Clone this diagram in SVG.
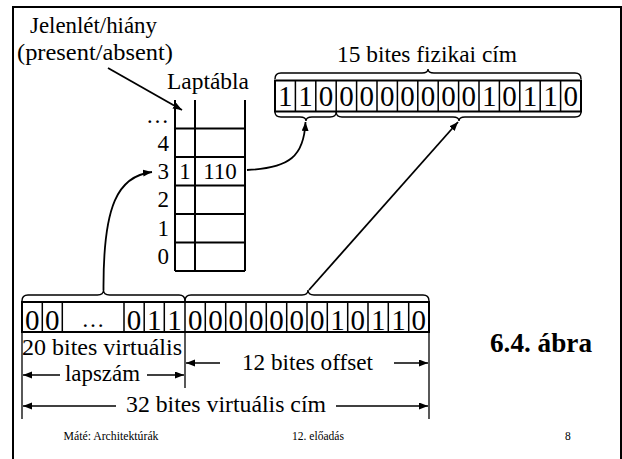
<svg xmlns="http://www.w3.org/2000/svg" width="622" height="459" viewBox="0 0 622 459" font-family="'Liberation Serif', 'Times New Roman', Tinos, serif">
<defs>
<marker id="ah" markerUnits="userSpaceOnUse" markerWidth="10" markerHeight="8" refX="9" refY="3.5" orient="auto">
<path d="M0,0 L9,3.5 L0,7 z" fill="#000"/>
</marker>
<style>
text{font-family:'Liberation Serif','Times New Roman',Tinos,serif;fill:#000}
.lbl{font-size:23px}
.bit{font-size:29px;text-anchor:middle}
.row{font-size:23px;text-anchor:end}
.cell{font-size:23px;text-anchor:middle}
.foot{font-size:11.5px}
.thick{fill:none;stroke:#000;stroke-width:2}
.thin{fill:none;stroke:#000;stroke-width:1.5}
.brace{fill:none;stroke:#000;stroke-width:1.4}
.conn{fill:none;stroke:#000;stroke-width:1.8}
.dim{fill:none;stroke:#000;stroke-width:1.3}
</style>
</defs>
<rect width="622" height="459" fill="#fff"/>
<path class="thick" d="M13,470 L13,7 L621,7 L621,470"/>

<g id="labels">
<text class="lbl" x="30" y="33" textLength="127" lengthAdjust="spacingAndGlyphs">Jelenlét/hiány</text>
<text class="lbl" x="17" y="60" textLength="156" lengthAdjust="spacingAndGlyphs">(present/absent)</text>
<text class="lbl" x="167" y="89" textLength="82" lengthAdjust="spacingAndGlyphs">Laptábla</text>
<text class="lbl" x="337" y="62" textLength="180" lengthAdjust="spacingAndGlyphs">15 bites fizikai cím</text>
<text x="490" y="352" style="font-size:28px;font-weight:bold" textLength="102" lengthAdjust="spacingAndGlyphs">6.4. ábra</text>
</g>

<g id="page-table">
<path class="thick" d="M175,100 V271 M195,100 V271 M245,100 V271 M175,128.5 H245 M175,157 H245 M175,185.5 H245 M175,214 H245 M175,242.5 H245 M175,271 H245"/>
<text class="row" x="169" y="123">…</text>
<text class="row" x="169" y="151">4</text>
<text class="row" x="169" y="179">3</text>
<text class="row" x="169" y="207">2</text>
<text class="row" x="169" y="236">1</text>
<text class="row" x="169" y="264">0</text>
<text class="cell" x="185" y="179">1</text>
<text class="cell" x="220" y="179">110</text>
</g>

<g id="physical-address">
<rect class="thick" x="275" y="80.5" width="306" height="31"/>
<path class="thin" d="M295.4,80.5 V111.5 M315.8,80.5 V111.5 M336.2,80.5 V111.5 M356.6,80.5 V111.5 M377,80.5 V111.5 M397.4,80.5 V111.5 M417.8,80.5 V111.5 M438.2,80.5 V111.5 M458.6,80.5 V111.5 M479,80.5 V111.5 M499.4,80.5 V111.5 M519.8,80.5 V111.5 M540.2,80.5 V111.5 M560.6,80.5 V111.5"/>
<text class="bit" x="285.2" y="106">1</text>
<text class="bit" x="305.6" y="106">1</text>
<text class="bit" x="326" y="106">0</text>
<text class="bit" x="346.4" y="106">0</text>
<text class="bit" x="366.8" y="106">0</text>
<text class="bit" x="387.2" y="106">0</text>
<text class="bit" x="407.6" y="106">0</text>
<text class="bit" x="428" y="106">0</text>
<text class="bit" x="448.4" y="106">0</text>
<text class="bit" x="468.8" y="106">0</text>
<text class="bit" x="489.2" y="106">1</text>
<text class="bit" x="509.6" y="106">0</text>
<text class="bit" x="530" y="106">1</text>
<text class="bit" x="550.4" y="106">1</text>
<text class="bit" x="570.8" y="106">0</text>
<path class="brace" d="M275,79 Q275,73 281,73 L422,73 Q428,73 428,69 Q428,73 434,73 L575,73 Q581,73 581,79"/>
<path class="brace" d="M275,112 Q275,117 281,117 L300,117 Q306,117 306,121 Q306,117 312,117 L330,117 Q336.2,117 336.2,112"/>
<path class="brace" d="M336.2,112 Q336.2,117 342,117 L453,117 Q459,117 459,121 Q459,117 465,117 L575,117 Q581,117 581,112"/>
</g>

<g id="virtual-address">
<rect class="thick" x="22" y="302" width="407" height="30"/>
<path class="thin" d="M42.3,302 V332 M62.3,302 V332 M124,302 V332 M144.2,302 V332 M164.3,302 V332 M185,302 V332 M205.3,302 V332 M225.7,302 V332 M246,302 V332 M266.3,302 V332 M286.7,302 V332 M307,302 V332 M327.3,302 V332 M347.7,302 V332 M368,302 V332 M388.3,302 V332 M408.7,302 V332"/>
<text class="bit" x="32.2" y="329.5">0</text>
<text class="bit" x="52.3" y="329.5">0</text>
<text class="cell" x="93" y="327">…</text>
<text class="bit" x="134.1" y="329.5">0</text>
<text class="bit" x="154.2" y="329.5">1</text>
<text class="bit" x="174.6" y="329.5">1</text>
<text class="bit" x="195.2" y="329.5">0</text>
<text class="bit" x="215.5" y="329.5">0</text>
<text class="bit" x="235.8" y="329.5">0</text>
<text class="bit" x="256.2" y="329.5">0</text>
<text class="bit" x="276.5" y="329.5">0</text>
<text class="bit" x="296.8" y="329.5">0</text>
<text class="bit" x="317.2" y="329.5">0</text>
<text class="bit" x="337.5" y="329.5">1</text>
<text class="bit" x="357.8" y="329.5">0</text>
<text class="bit" x="378.2" y="329.5">1</text>
<text class="bit" x="398.5" y="329.5">1</text>
<text class="bit" x="418.8" y="329.5">0</text>
<path class="brace" d="M22,301 Q22,295 28,295 L97.5,295 Q103.5,295 103.5,290 Q103.5,295 109.5,295 L179,295 Q185,295 185,301"/>
<path class="brace" d="M185,301 Q185,295 191,295 L302,295 Q308,295 308,290 Q308,295 314,295 L423,295 Q429,295 429,301"/>
</g>

<g id="dimensions">
<path class="dim" d="M22,332 V419 M185,332 V388 M429,332 V419"/>
<text class="lbl" x="22" y="355" textLength="160" lengthAdjust="spacingAndGlyphs">20 bites virtuális</text>
<text class="lbl" x="65" y="381" textLength="75" lengthAdjust="spacingAndGlyphs">lapszám</text>
<path class="dim" marker-end="url(#ah)" d="M60,375 H23"/>
<path class="dim" marker-end="url(#ah)" d="M147,375 H184"/>
<text class="lbl" x="242" y="370" textLength="131" lengthAdjust="spacingAndGlyphs">12 bites offset</text>
<path class="dim" marker-end="url(#ah)" d="M220,363 H186"/>
<path class="dim" marker-end="url(#ah)" d="M394,363 H428"/>
<text class="lbl" x="126" y="412" textLength="200" lengthAdjust="spacingAndGlyphs">32 bites virtuális cím</text>
<path class="dim" marker-end="url(#ah)" d="M116,406 H23"/>
<path class="dim" marker-end="url(#ah)" d="M336,406 H428"/>
</g>

<g id="connectors">
<path class="conn" marker-end="url(#ah)" d="M108,68 L182,110"/>
<path class="conn" marker-end="url(#ah)" d="M247,170 C290,168 304,156 305.5,122"/>
<path class="conn" marker-end="url(#ah)" d="M103.5,290 C103,205 118,176 152,172"/>
<path class="conn" marker-end="url(#ah)" d="M309,290 L458,122"/>
</g>

<g id="footer">
<text class="foot" x="63.5" y="440" textLength="95" lengthAdjust="spacingAndGlyphs">Máté: Architektúrák</text>
<text class="foot" x="292" y="440" textLength="52" lengthAdjust="spacingAndGlyphs">12. előadás</text>
<text class="foot" x="565" y="440">8</text>
</g>
</svg>
